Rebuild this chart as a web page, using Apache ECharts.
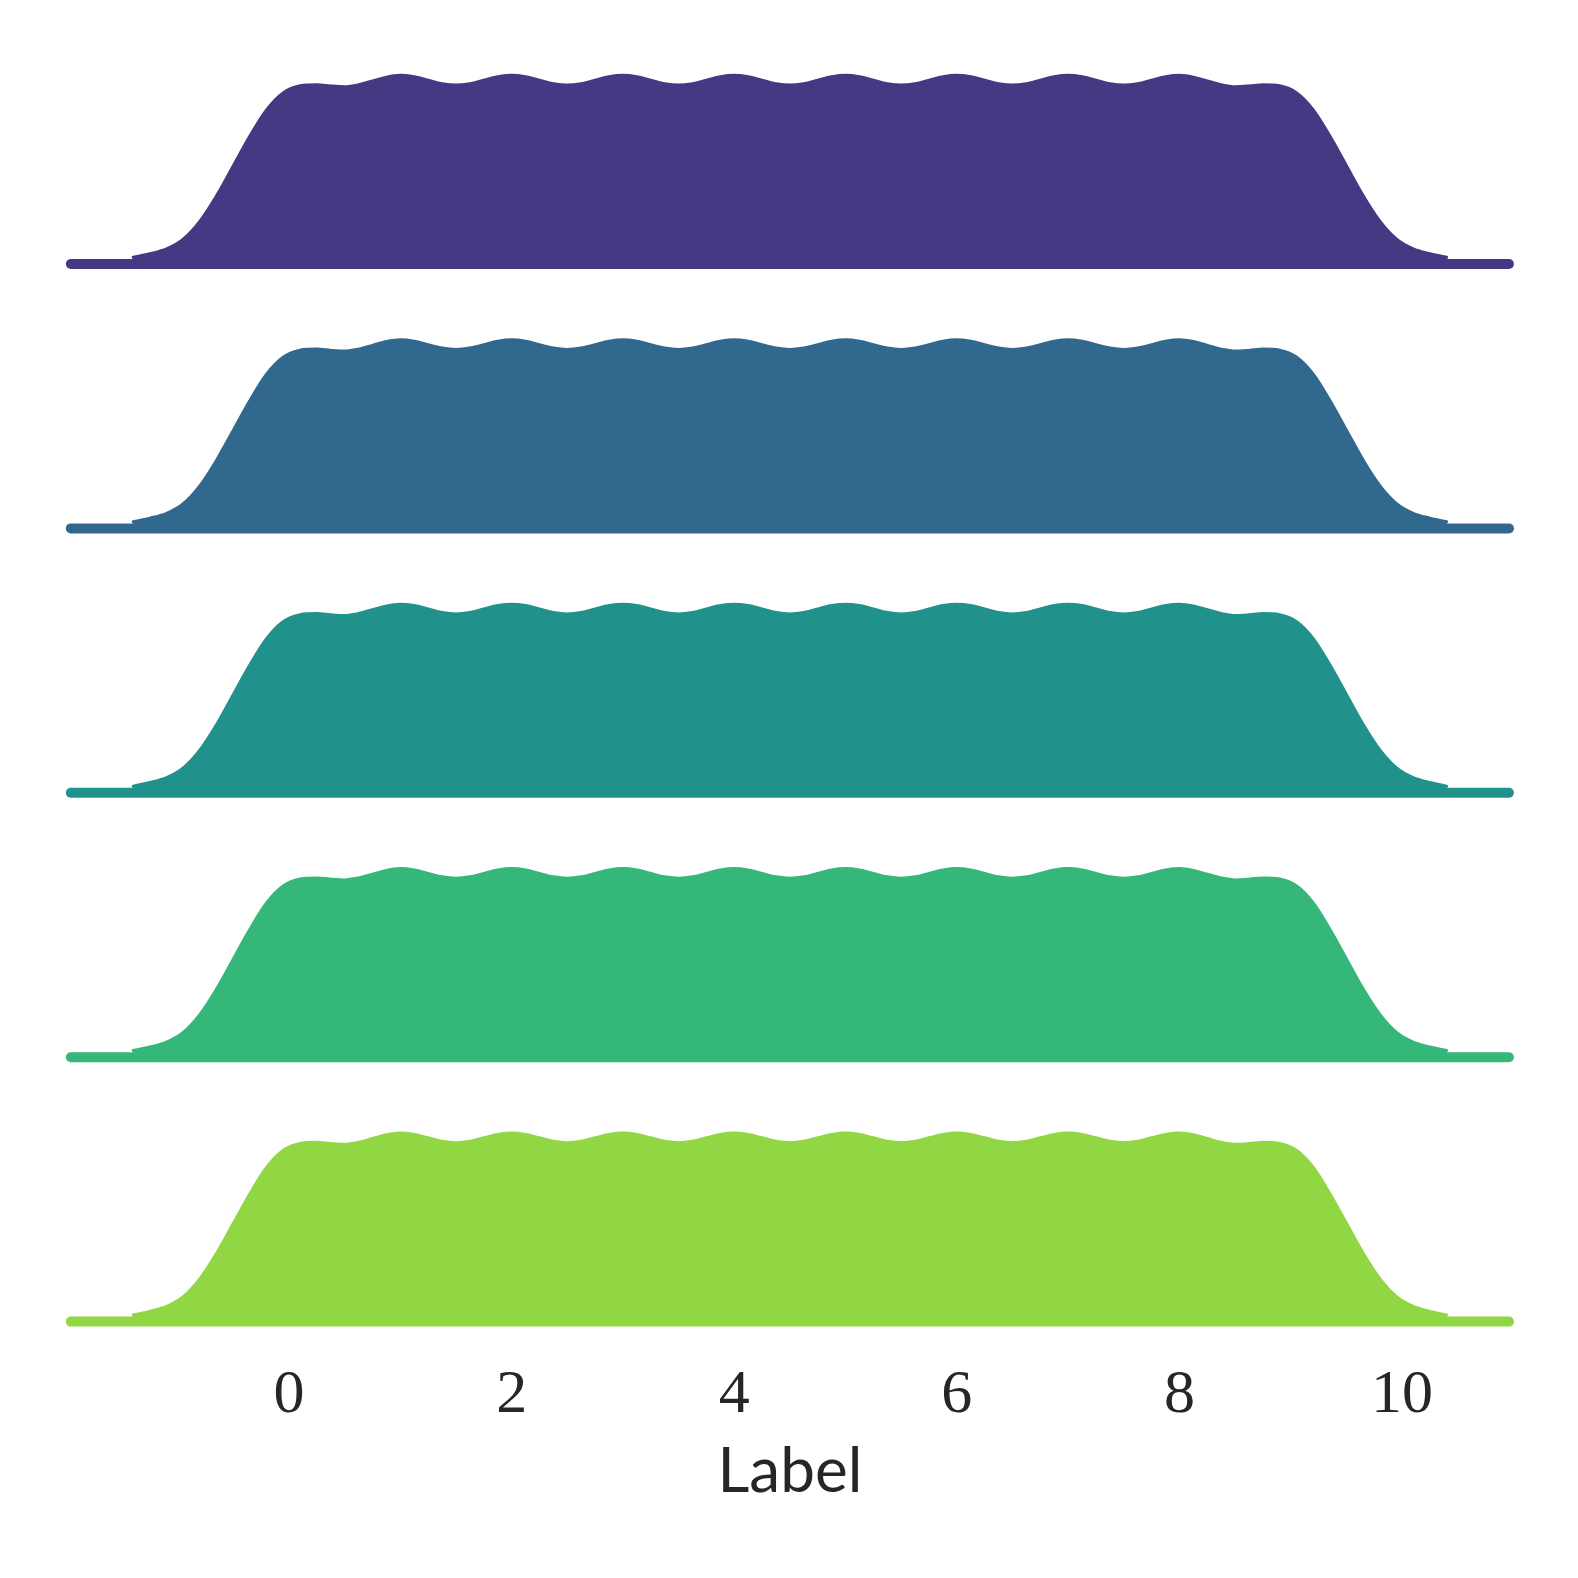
<!DOCTYPE html>
<html>
<head>
<meta charset="utf-8">
<script src="https://cdn.jsdelivr.net/npm/echarts@6/dist/echarts.min.js"></script>
<style>
  html, body { margin: 0; padding: 0; background: #ffffff; }
  #main { width: 1578px; height: 1578px; }
</style>
</head>
<body>
<div id="main"></div>
<script>
// ridges, top to bottom (same distribution drawn in each)
var ridgeColors = ['#443983', '#31688e', '#21918c', '#35b779', '#90d743'];

// kde
var labelX = [-1.4, -1.25, -1.1, -0.95, -0.8, -0.65, -0.5, -0.35, -0.2, -0.05, 0.1, 0.25, 0.375,
    0.5, 0.625, 0.75, 0.875, 1, 1.125, 1.25, 1.375,
    1.5, 1.625, 1.75, 1.875, 2, 2.125, 2.25, 2.375,
    2.5, 2.625, 2.75, 2.875, 3, 3.125, 3.25, 3.375,
    3.5, 3.625, 3.75, 3.875, 4, 4.125, 4.25, 4.375,
    4.5, 4.625, 4.75, 4.875, 5, 5.125, 5.25, 5.375,
    5.5, 5.625, 5.75, 5.875, 6, 6.125, 6.25, 6.375,
    6.5, 6.625, 6.75, 6.875, 7, 7.125, 7.25, 7.375,
    7.5, 7.625, 7.75, 7.875, 8, 8.125, 8.25, 8.375,
    8.5, 8.625, 8.75, 8.9, 9.05, 9.2, 9.35, 9.5, 9.65, 9.8, 9.95, 10.1, 10.25, 10.4];
var density = [0.0037, 0.0057, 0.0084, 0.0138, 0.0238, 0.0380, 0.0546, 0.0712, 0.0858, 0.0952, 0.0990, 0.0996, 0.0989,
    0.0985, 0.0996, 0.1017, 0.1038, 0.1048, 0.1040, 0.1021, 0.1002,
    0.0994, 0.1002, 0.1021, 0.1040, 0.1048, 0.1040, 0.1021, 0.1002,
    0.0994, 0.1002, 0.1021, 0.1040, 0.1048, 0.1040, 0.1021, 0.1002,
    0.0994, 0.1002, 0.1021, 0.1040, 0.1048, 0.1040, 0.1021, 0.1002,
    0.0994, 0.1002, 0.1021, 0.1040, 0.1048, 0.1040, 0.1021, 0.1002,
    0.0994, 0.1002, 0.1021, 0.1040, 0.1048, 0.1040, 0.1021, 0.1002,
    0.0994, 0.1002, 0.1021, 0.1040, 0.1048, 0.1040, 0.1021, 0.1002,
    0.0994, 0.1002, 0.1021, 0.1040, 0.1048, 0.1038, 0.1017, 0.0996,
    0.0985, 0.0989, 0.0996, 0.0990, 0.0952, 0.0858, 0.0712, 0.0546, 0.0380, 0.0238, 0.0138, 0.0084, 0.0057, 0.0037];

var baseX = [-1.96, 10.96];
var tickLabels = [0, 2, 4, 6, 8, 10];
var axisTitle = 'Label';

var myChart = echarts.init(document.getElementById('main'));

var kde = labelX.map(function (x, i) { return [x, density[i]]; });
var grids = [], xAxes = [], yAxes = [], series = [];

ridgeColors.forEach(function (color, i) {
    var base = 264 + 264.4 * i;
    var last = i === ridgeColors.length - 1;
    grids.push({ left: 66.4, width: 1447, top: base - 216, height: 216 });
    xAxes.push({
        gridIndex: i,
        type: 'value',
        min: -2,
        max: 11,
        interval: 2,
        axisLine: { show: false },
        axisTick: { show: false },
        splitLine: { show: false },
        axisLabel: {
            show: last,
            customValues: tickLabels,
            margin: 74,
            verticalAlign: 'middle',
            fontFamily: 'Liberation Serif',
            fontSize: 62,
            color: '#262626'
        },
        name: last ? axisTitle : '',
        nameLocation: 'middle',
        nameGap: 150,
        nameTextStyle: {
            fontFamily: 'Lato',
            fontSize: 62,
            color: '#262626',
            verticalAlign: 'middle'
        }
    });
    yAxes.push({
        gridIndex: i,
        type: 'value',
        min: 0,
        max: 0.12,
        show: false
    });
    series.push({
        type: 'line',
        xAxisIndex: i,
        yAxisIndex: i,
        data: baseX.map(function (x) { return [x, 0]; }),
        showSymbol: false,
        clip: false,
        silent: true,
        lineStyle: { color: color, width: 10, cap: 'round' }
    });
    series.push({
        type: 'line',
        xAxisIndex: i,
        yAxisIndex: i,
        data: kde,
        smooth: 0.33,
        showSymbol: false,
        clip: false,
        silent: true,
        lineStyle: { color: color, width: 3, cap: 'round', join: 'round' },
        areaStyle: { color: color, opacity: 1 }
    });
});

var option = {
    backgroundColor: '#ffffff',
    animation: false,
    grid: grids,
    xAxis: xAxes,
    yAxis: yAxes,
    series: series
};

myChart.setOption(option);
</script>
</body>
</html>
